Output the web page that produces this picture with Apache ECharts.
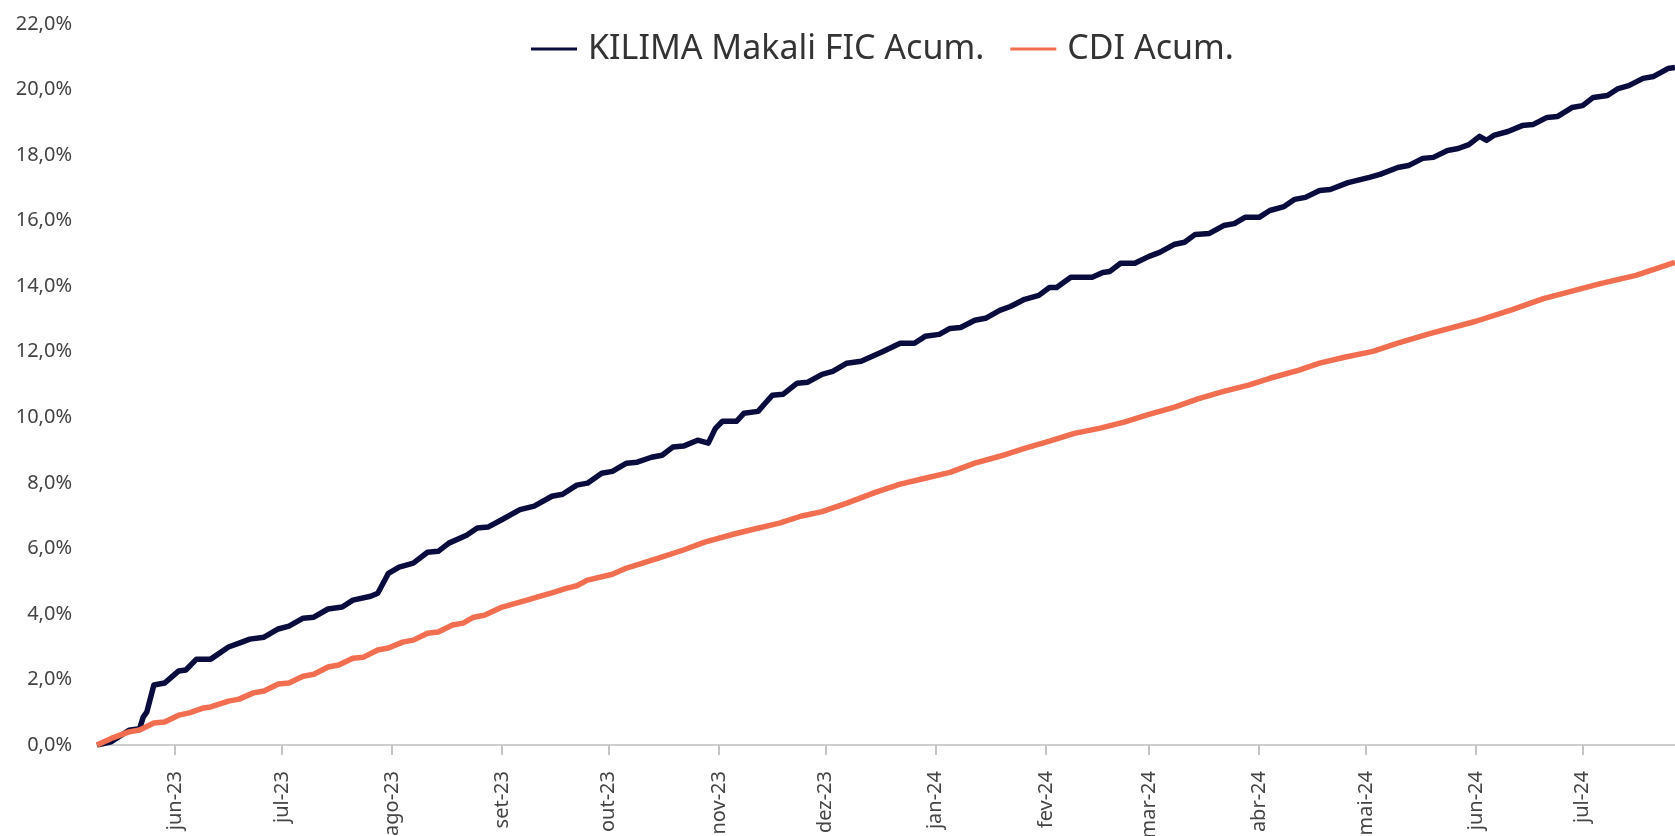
<!DOCTYPE html>
<html>
<head>
<meta charset="utf-8">
<script src="https://cdn.jsdelivr.net/npm/echarts@6/dist/echarts.min.js"></script>
<style>
  html, body { margin: 0; padding: 0; background: #fff; }
  #main { width: 1675px; height: 836px; }
</style>
</head>
<body>
<div id="main"></div>
<script>
// rótulos dos meses (eixo x)
var meses = ['jan', 'fev', 'mar', 'abr', 'mai', 'jun', 'jul', 'ago', 'set', 'out', 'nov', 'dez'];

// KILIMA Makali FIC acumulado (%)
var kilimaDatas = [
  '2023-05-10','2023-05-14','2023-05-19','2023-05-22','2023-05-23','2023-05-24','2023-05-26','2023-05-29',
  '2023-06-02','2023-06-04','2023-06-07','2023-06-11','2023-06-16','2023-06-19','2023-06-22','2023-06-26','2023-06-30',
  '2023-07-03','2023-07-07','2023-07-10','2023-07-14','2023-07-18','2023-07-21','2023-07-26','2023-07-28','2023-07-31',
  '2023-08-03','2023-08-07','2023-08-11','2023-08-14','2023-08-17','2023-08-22','2023-08-25','2023-08-28',
  '2023-09-01','2023-09-06','2023-09-10','2023-09-15','2023-09-18','2023-09-22','2023-09-25','2023-09-29',
  '2023-10-02','2023-10-06','2023-10-09','2023-10-13','2023-10-16','2023-10-19','2023-10-22','2023-10-26','2023-10-29','2023-10-31',
  '2023-11-02','2023-11-06','2023-11-08','2023-11-12','2023-11-14','2023-11-16','2023-11-19','2023-11-23','2023-11-26','2023-11-30',
  '2023-12-03','2023-12-07','2023-12-11','2023-12-17','2023-12-22','2023-12-26','2023-12-29',
  '2024-01-02','2024-01-05','2024-01-08','2024-01-12','2024-01-15','2024-01-19','2024-01-22','2024-01-26','2024-01-30',
  '2024-02-02','2024-02-04','2024-02-08','2024-02-14','2024-02-17','2024-02-19','2024-02-22','2024-02-26',
  '2024-03-01','2024-03-04','2024-03-08','2024-03-11','2024-03-14','2024-03-18','2024-03-22','2024-03-25','2024-03-28',
  '2024-04-01','2024-04-04','2024-04-08','2024-04-11','2024-04-14','2024-04-18','2024-04-21','2024-04-26',
  '2024-05-02','2024-05-05','2024-05-10','2024-05-13','2024-05-17','2024-05-20','2024-05-24','2024-05-27','2024-05-30',
  '2024-06-02','2024-06-04','2024-06-06','2024-06-10','2024-06-14','2024-06-17','2024-06-21','2024-06-24','2024-06-28',
  '2024-07-01','2024-07-04','2024-07-08','2024-07-11','2024-07-14','2024-07-18','2024-07-21','2024-07-25','2024-07-27'
];
var kilimaValores = [
  0.00, 0.10, 0.45, 0.50, 0.85, 1.00, 1.83, 1.89,
  2.26, 2.29, 2.62, 2.62, 2.99, 3.11, 3.23, 3.29, 3.54,
  3.63, 3.87, 3.90, 4.15, 4.21, 4.42, 4.54, 4.63, 5.24,
  5.43, 5.55, 5.88, 5.91, 6.16, 6.40, 6.62, 6.65,
  6.88, 7.18, 7.29, 7.59, 7.65, 7.93, 7.99, 8.29,
  8.35, 8.60, 8.63, 8.78, 8.84, 9.09, 9.12, 9.30, 9.21, 9.66,
  9.88, 9.88, 10.12, 10.18, 10.43, 10.67, 10.70, 11.04, 11.07, 11.31,
  11.40, 11.65, 11.71, 12.00, 12.26, 12.26, 12.47,
  12.53, 12.71, 12.74, 12.96, 13.02, 13.26, 13.38, 13.60, 13.72,
  13.96, 13.96, 14.27, 14.27, 14.42, 14.45, 14.70, 14.70,
  14.91, 15.03, 15.27, 15.34, 15.58, 15.61, 15.85, 15.91, 16.10,
  16.10, 16.31, 16.43, 16.65, 16.71, 16.92, 16.95, 17.16,
  17.32, 17.41, 17.62, 17.68, 17.90, 17.93, 18.14, 18.20, 18.32,
  18.57, 18.45, 18.60, 18.72, 18.90, 18.93, 19.15, 19.18, 19.45,
  19.51, 19.76, 19.82, 20.03, 20.12, 20.34, 20.40, 20.64, 20.67
];

// CDI acumulado (%)
var cdiDatas = [
  '2023-05-10','2023-05-14','2023-05-19','2023-05-22','2023-05-26','2023-05-29',
  '2023-06-02','2023-06-05','2023-06-09','2023-06-11','2023-06-16','2023-06-19','2023-06-23','2023-06-26','2023-06-30',
  '2023-07-03','2023-07-07','2023-07-10','2023-07-14','2023-07-17','2023-07-21','2023-07-24','2023-07-28','2023-07-31',
  '2023-08-04','2023-08-07','2023-08-11','2023-08-14','2023-08-18','2023-08-21','2023-08-24','2023-08-27',
  '2023-09-01','2023-09-05','2023-09-08','2023-09-12','2023-09-15','2023-09-19','2023-09-22','2023-09-25',
  '2023-10-02','2023-10-06','2023-10-15','2023-10-22','2023-10-28',
  '2023-11-05','2023-11-11','2023-11-18','2023-11-24','2023-11-30',
  '2023-12-07','2023-12-15','2023-12-22','2023-12-29',
  '2024-01-05','2024-01-12','2024-01-19','2024-01-26',
  '2024-02-02','2024-02-09','2024-02-16','2024-02-23',
  '2024-03-01','2024-03-08','2024-03-15','2024-03-22','2024-03-29',
  '2024-04-04','2024-04-12','2024-04-18','2024-04-25',
  '2024-05-03','2024-05-10','2024-05-19',
  '2024-06-01','2024-06-11','2024-06-20',
  '2024-07-06','2024-07-16','2024-07-27'
];
var cdiValores = [
  0.00, 0.20, 0.40, 0.46, 0.67, 0.70,
  0.91, 0.98, 1.13, 1.16, 1.34, 1.40, 1.59, 1.65, 1.86,
  1.89, 2.10, 2.16, 2.38, 2.44, 2.65, 2.68, 2.90, 2.96,
  3.14, 3.20, 3.41, 3.45, 3.66, 3.72, 3.90, 3.96,
  4.21, 4.33, 4.42, 4.55, 4.64, 4.78, 4.86, 5.03,
  5.21, 5.40, 5.70, 5.95, 6.19,
  6.43, 6.59, 6.77, 6.98, 7.12,
  7.38, 7.71, 7.96, 8.14,
  8.32, 8.60, 8.81, 9.05,
  9.27, 9.51, 9.66, 9.85,
  10.09, 10.30, 10.57, 10.79, 10.98,
  11.19, 11.43, 11.65, 11.83,
  12.01, 12.26, 12.55,
  12.93, 13.28, 13.62,
  14.08, 14.33, 14.73
];

var inicio = '2023-05-10';
var fim = '2024-07-27';

function pares(datas, valores) {
  return datas.map(function (d, i) { return [d, valores[i]]; });
}

var fonte = 'Noto Sans';
var DIA = 24 * 3600 * 1000;

var myChart = echarts.init(document.getElementById('main'));
myChart.setOption({
  animation: false,
  backgroundColor: '#fff',
  legend: {
    left: 526,
    top: 24,
    icon: 'rect',
    itemWidth: 46,
    itemHeight: 3,
    itemGap: 26,
    textStyle: { fontFamily: fonte, fontSize: 34, color: '#333', lineHeight: 40, padding: [0, 0, 0, 6] },
    data: ['KILIMA Makali FIC Acum.', 'CDI Acum.']
  },
  grid: { left: 97, right: 0, top: 24, bottom: 91, containLabel: false, outerBoundsMode: 'none' },
  xAxis: {
    type: 'time',
    min: inicio,
    max: fim,
    minInterval: 28 * DIA,
    maxInterval: 31 * DIA,
    axisLine: { lineStyle: { color: '#cfcfcf', width: 2 } },
    axisTick: { show: true, length: 10, lineStyle: { color: '#c4c4c4', width: 2 } },
    splitLine: { show: false },
    axisLabel: {
      rotate: 90,
      margin: 26,
      showMinLabel: false,
      showMaxLabel: false,
      fontFamily: fonte,
      fontSize: 20,
      color: '#444',
      formatter: function (val) {
        var d = new Date(val);
        return meses[d.getMonth()] + '-' + String(d.getFullYear()).slice(2);
      }
    }
  },
  yAxis: {
    type: 'value',
    min: 0,
    max: 22,
    interval: 2,
    axisLine: { show: false },
    axisTick: { show: false },
    splitLine: { show: false },
    axisLabel: {
      margin: 25,
      fontFamily: fonte,
      fontSize: 20,
      color: '#444',
      formatter: function (v) { return v.toFixed(1).replace('.', ',') + '%'; }
    }
  },
  series: [
    {
      name: 'KILIMA Makali FIC Acum.',
      type: 'line',
      symbol: 'none',
      color: '#0a0c3d',
      lineStyle: { width: 5.5, color: '#0a0c3d', join: 'round' },
      data: pares(kilimaDatas, kilimaValores)
    },
    {
      name: 'CDI Acum.',
      type: 'line',
      symbol: 'none',
      color: '#f26e50',
      lineStyle: { width: 5.5, color: '#f26e50', join: 'round' },
      data: pares(cdiDatas, cdiValores)
    }
  ]
});
</script>
</body>
</html>
